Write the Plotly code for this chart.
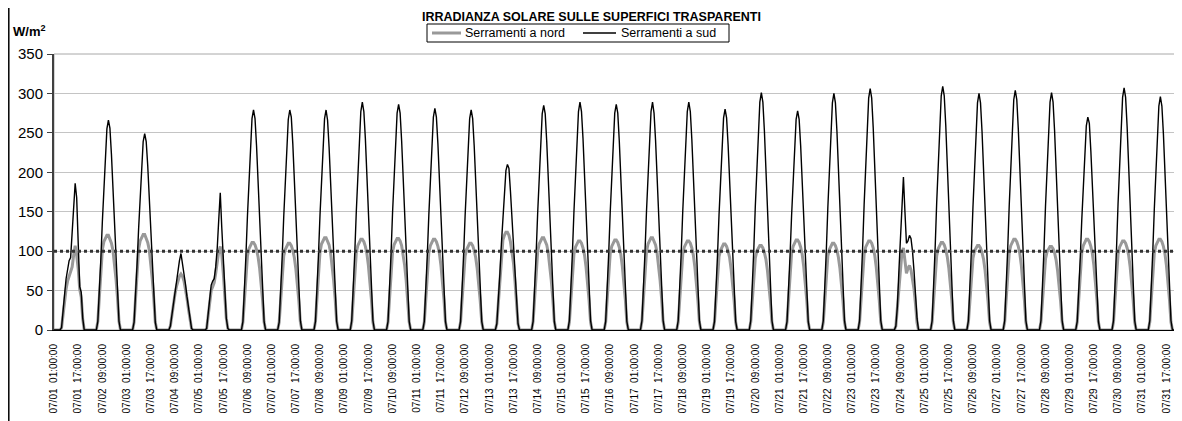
import plotly.graph_objects as go

# ---------------- data ----------------
DAYS = ["07/01", "07/02", "07/03", "07/04", "07/05", "07/06", "07/07", "07/08",
        "07/09", "07/10", "07/11", "07/12", "07/13", "07/14", "07/15", "07/16",
        "07/17", "07/18", "07/19", "07/20", "07/21", "07/22", "07/23", "07/24",
        "07/25", "07/26", "07/27", "07/28", "07/29", "07/30", "07/31"]
HOURS = ["01:00:00", "02:00:00", "03:00:00", "04:00:00", "05:00:00", "06:00:00",
         "07:00:00", "08:00:00", "09:00:00", "10:00:00", "11:00:00", "12:00:00",
         "13:00:00", "14:00:00", "15:00:00", "16:00:00", "17:00:00", "18:00:00",
         "19:00:00", "20:00:00", "21:00:00", "22:00:00", "23:00:00", "24:00:00"]

# Hourly values from 06:00 to 20:00 for each day (all other hours are 0)
NIGHT_BEFORE = [0, 0, 0, 0, 0]      # 01:00 .. 05:00
NIGHT_AFTER = [0, 0, 0, 0]          # 21:00 .. 24:00

SOUTH = [  # Serramenti a sud, W/m2
    [3, 20, 45, 65, 80, 88, 92, 125, 155, 186, 168, 122, 55, 48, 15],
    [11, 45, 90, 138, 184, 223, 255, 266, 256, 223, 181, 133, 85, 43, 11],
    [10, 42, 85, 129, 172, 209, 239, 249, 239, 209, 169, 125, 80, 40, 10],
    [5, 20, 35, 50, 63, 76, 88, 97, 85, 73, 58, 42, 27, 12, 2],
    [2, 20, 40, 57, 62, 65, 80, 104, 140, 174, 130, 85, 45, 15, 2],
    [11, 47, 95, 145, 193, 234, 268, 279, 268, 234, 190, 140, 89, 45, 11],
    [10, 46, 94, 144, 192, 235, 267, 279, 270, 236, 191, 141, 90, 46, 12],
    [11, 47, 96, 146, 194, 234, 268, 279, 266, 232, 188, 139, 88, 44, 11],
    [12, 49, 98, 150, 199, 243, 277, 289, 277, 243, 197, 145, 92, 46, 12],
    [11, 49, 97, 149, 197, 240, 275, 286, 275, 240, 194, 143, 92, 46, 11],
    [11, 48, 96, 146, 194, 236, 270, 281, 270, 236, 191, 141, 90, 45, 11],
    [11, 47, 95, 145, 193, 234, 268, 279, 268, 234, 190, 140, 89, 45, 11],
    [8, 36, 71, 109, 145, 176, 202, 210, 205, 176, 143, 105, 67, 34, 8],
    [11, 48, 97, 148, 197, 239, 274, 285, 274, 239, 194, 143, 91, 46, 11],
    [12, 49, 98, 150, 199, 243, 277, 289, 277, 243, 197, 145, 92, 46, 12],
    [11, 49, 97, 149, 197, 240, 275, 286, 275, 240, 194, 143, 92, 46, 11],
    [12, 49, 98, 150, 199, 243, 277, 289, 275, 241, 196, 144, 92, 46, 12],
    [12, 49, 99, 151, 200, 243, 277, 289, 277, 242, 196, 144, 92, 46, 12],
    [11, 48, 95, 146, 193, 235, 269, 280, 269, 235, 190, 140, 90, 45, 11],
    [12, 51, 102, 157, 208, 253, 289, 301, 289, 253, 205, 151, 96, 48, 12],
    [11, 47, 95, 145, 192, 234, 267, 278, 267, 234, 189, 139, 89, 44, 11],
    [12, 51, 102, 156, 207, 252, 288, 300, 288, 252, 204, 150, 96, 48, 12],
    [12, 52, 104, 159, 211, 257, 294, 306, 294, 257, 208, 153, 98, 49, 12],
    [5, 30, 75, 120, 165, 194, 150, 110, 113, 120, 116, 100, 75, 45, 15],
    [12, 53, 105, 161, 213, 260, 297, 309, 297, 260, 210, 155, 99, 49, 12],
    [12, 51, 102, 156, 207, 252, 288, 300, 288, 252, 204, 150, 96, 48, 12],
    [12, 52, 103, 158, 210, 255, 292, 304, 292, 255, 207, 152, 97, 49, 12],
    [12, 51, 102, 157, 208, 253, 289, 301, 289, 253, 205, 151, 96, 48, 12],
    [11, 46, 92, 140, 186, 227, 259, 270, 262, 227, 184, 135, 86, 43, 11],
    [12, 52, 104, 160, 212, 258, 295, 307, 295, 258, 209, 154, 98, 49, 12],
    [12, 50, 101, 154, 204, 249, 284, 296, 284, 249, 201, 148, 95, 47, 12],
]

NORTH = [  # Serramenti a nord, W/m2
    [3, 19, 40, 52, 62, 68, 73, 80, 95, 107, 95, 78, 52, 42, 14],
    [11, 43, 77, 102, 112, 116, 120, 120, 116, 110, 101, 85, 65, 41, 11],
    [10, 42, 77, 103, 113, 117, 121, 121, 117, 111, 102, 86, 65, 40, 10],
    [5, 20, 33, 45, 55, 63, 68, 71, 68, 62, 52, 40, 26, 12, 2],
    [2, 19, 36, 50, 55, 60, 72, 88, 100, 106, 96, 72, 42, 15, 2],
    [10, 40, 71, 94, 103, 108, 111, 111, 108, 102, 93, 79, 60, 38, 10],
    [10, 40, 70, 94, 102, 107, 110, 110, 107, 101, 92, 78, 59, 37, 10],
    [11, 42, 75, 99, 109, 113, 117, 117, 113, 108, 98, 83, 63, 40, 11],
    [10, 41, 74, 98, 107, 112, 115, 115, 112, 106, 97, 82, 62, 39, 10],
    [10, 42, 74, 99, 108, 113, 116, 116, 113, 107, 97, 82, 63, 39, 10],
    [10, 41, 74, 98, 107, 112, 115, 115, 112, 106, 97, 82, 62, 39, 10],
    [10, 40, 70, 94, 102, 107, 110, 110, 107, 101, 92, 78, 59, 37, 10],
    [8, 35, 70, 100, 114, 120, 124, 124, 120, 112, 100, 85, 62, 33, 8],
    [11, 42, 75, 99, 109, 113, 117, 117, 113, 108, 98, 83, 63, 40, 11],
    [10, 41, 72, 96, 105, 110, 113, 113, 110, 104, 95, 80, 61, 38, 10],
    [10, 41, 73, 97, 106, 111, 114, 114, 111, 105, 96, 81, 62, 39, 10],
    [11, 42, 75, 99, 109, 113, 117, 117, 113, 108, 98, 83, 63, 40, 11],
    [10, 41, 72, 96, 105, 110, 113, 113, 110, 104, 95, 80, 61, 38, 10],
    [10, 39, 70, 93, 101, 106, 109, 109, 106, 100, 92, 77, 59, 37, 10],
    [10, 39, 68, 91, 100, 104, 107, 107, 104, 98, 90, 76, 58, 36, 10],
    [10, 41, 73, 97, 106, 111, 114, 114, 111, 105, 96, 81, 62, 39, 10],
    [10, 40, 70, 94, 102, 107, 110, 110, 107, 101, 92, 78, 59, 37, 10],
    [10, 41, 72, 96, 105, 110, 113, 113, 110, 104, 95, 80, 61, 38, 10],
    [5, 28, 60, 85, 98, 104, 90, 72, 78, 82, 76, 66, 52, 33, 9],
    [10, 40, 71, 94, 103, 108, 111, 111, 108, 102, 93, 79, 60, 38, 10],
    [10, 39, 68, 91, 100, 104, 107, 107, 104, 98, 90, 76, 58, 36, 10],
    [10, 41, 74, 98, 107, 112, 115, 115, 112, 106, 97, 82, 62, 39, 10],
    [10, 38, 68, 90, 99, 103, 106, 106, 103, 98, 89, 75, 57, 36, 10],
    [10, 41, 74, 98, 107, 112, 115, 115, 112, 106, 97, 82, 62, 39, 10],
    [10, 41, 72, 96, 105, 110, 113, 113, 110, 104, 95, 80, 61, 38, 10],
    [10, 41, 74, 98, 107, 112, 115, 115, 112, 106, 97, 82, 62, 39, 10],
]

SERIES_NAMES = ["Serramenti a nord", "Serramenti a sud"]
TITLE = "IRRADIANZA SOLARE SULLE SUPERFICI TRASPARENTI"
UNIT = "W/m<sup>2</sup>"
LIMIT = 100                 # reference level (dotted line)
Y_TICKS = [0, 50, 100, 150, 200, 250, 300, 350]
LABEL_EVERY = 16            # one x label every 16 hours

# ---------------- build series ----------------
timestamps = [f"{d} {h}" for d in DAYS for h in HOURS]
south = [v for row in SOUTH for v in NIGHT_BEFORE + row + NIGHT_AFTER]
north = [v for row in NORTH for v in NIGHT_BEFORE + row + NIGHT_AFTER]

tick_vals = timestamps[::LABEL_EVERY]
tick_text = [t.replace(" ", "\u00a0\u00a0") for t in tick_vals]

FONT = "Arial, Liberation Sans, Helvetica, sans-serif"
W, H = 1182, 421
OFF = 8                      # page offset of the figure inside the browser
# plot area wanted on screen: x 54..1177, y 54..330
L, T = 54 - OFF, 54 - OFF
R = W - (1177 - OFF)
B = H - (330 - OFF)
PW, PH = W - L - R, H - T - B


def fx(px):                  # screen x -> paper x
    return (px - OFF - L) / PW


def fy(py):                  # screen y -> paper y
    return (H - B - (py - OFF)) / PH


fig = go.Figure()
fig.add_trace(go.Scatter(
    x=timestamps, y=north, mode="lines", name=SERIES_NAMES[0],
    line=dict(color="#999999", width=3), showlegend=False))
fig.add_trace(go.Scatter(
    x=timestamps, y=south, mode="lines", name=SERIES_NAMES[1],
    line=dict(color="#000000", width=1.4), showlegend=False))

fig.update_layout(
    width=W, height=H, autosize=False,
    margin=dict(l=L, r=R, t=T, b=B, pad=0),
    paper_bgcolor="white", plot_bgcolor="white",
    font=dict(family=FONT, color="#000000"),
    showlegend=False,
    xaxis=dict(type="category", categoryorder="array", categoryarray=timestamps,
               range=[0, len(timestamps) - 1], automargin=False,
               tickmode="array", tickvals=tick_vals, ticktext=tick_text,
               tickangle=-90, tickfont=dict(size=10, family=FONT),
               ticks="", ticklabelstandoff=9,
               showgrid=False, showline=True, linecolor="#000000", linewidth=1,
               zeroline=False),
    yaxis=dict(range=[0, 350], tickmode="array", tickvals=Y_TICKS,
               automargin=False,
               tickfont=dict(size=15, family=FONT),
               ticks="outside", ticklen=5, tickcolor="#404040", tickwidth=1,
               ticklabelstandoff=1,
               showgrid=True, gridcolor="#c4c4c4", gridwidth=1,
               showline=True, linecolor="#404040", linewidth=2,
               zeroline=False),
)

# plot-area frame
fig.add_shape(type="rect", xref="paper", yref="paper", x0=0, x1=1, y0=0, y1=1,
              line=dict(color="#a8a8a8", width=1), layer="below")
# reference level 100 W/m2
fig.add_shape(type="line", xref="paper", yref="y", x0=0, x1=1, y0=LIMIT, y1=LIMIT,
              line=dict(color="#333333", width=3, dash="dot"), layer="above")
# outer chart frame (left edge visible)
fig.add_shape(type="line", xref="paper", yref="paper",
              x0=fx(8.8), x1=fx(8.8), y0=fy(440), y1=fy(0),
              line=dict(color="#000000", width=1.5), layer="above")

# title (top of its box at the top of the figure so nothing is clipped)
fig.add_annotation(text=f"<b>{TITLE}</b>", xref="paper", yref="paper",
                   x=fx(591), xanchor="center", y=fy(OFF + 0.5), yanchor="top",
                   showarrow=False, borderpad=0,
                   font=dict(size=12.5, family=FONT))
# unit label
fig.add_annotation(text=f"<b>{UNIT}</b>", xref="paper", yref="paper",
                   x=fx(11), xanchor="left", y=fy(31), yanchor="middle",
                   showarrow=False, font=dict(size=13, family=FONT))

# legend (box, line samples, labels)
fig.add_shape(type="rect", xref="paper", yref="paper",
              x0=fx(427), x1=fx(729), y0=fy(42), y1=fy(24),
              line=dict(color="#000000", width=1), fillcolor="white",
              layer="above")
fig.add_shape(type="line", xref="paper", yref="paper",
              x0=fx(432), x1=fx(461), y0=fy(33), y1=fy(33),
              line=dict(color="#999999", width=3), layer="above")
fig.add_shape(type="line", xref="paper", yref="paper",
              x0=fx(583), x1=fx(616), y0=fy(33), y1=fy(33),
              line=dict(color="#000000", width=1.4), layer="above")
fig.add_annotation(text=SERIES_NAMES[0], xref="paper", yref="paper",
                   x=fx(463), xanchor="left", y=fy(33), yanchor="middle",
                   showarrow=False, font=dict(size=12.5, family=FONT))
fig.add_annotation(text=SERIES_NAMES[1], xref="paper", yref="paper",
                   x=fx(619), xanchor="left", y=fy(33), yanchor="middle",
                   showarrow=False, font=dict(size=12.5, family=FONT))

fig.write_html("out.html")
